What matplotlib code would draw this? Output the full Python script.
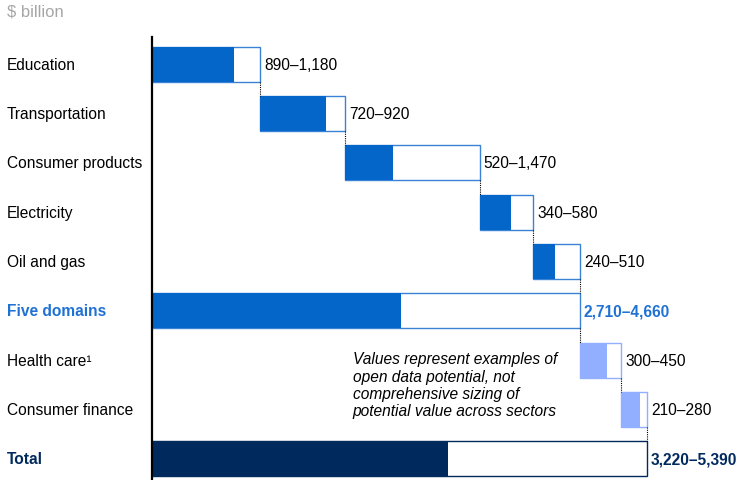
import matplotlib.pyplot as plt
import matplotlib.transforms as mtransforms
import numpy as np

plt.rcParams["font.family"] = ["Liberation Sans", "DejaVu Sans"]

categories = ["Education", "Transportation", "Consumer products", "Electricity",
              "Oil and gas", "Five domains", "Health care¹", "Consumer finance", "Total"]
low = [890, 720, 520, 340, 240, 2710, 300, 210, 3220]
high = [1180, 920, 1470, 580, 510, 4660, 450, 280, 5390]
value_labels = ["890–1,180", "720–920", "520–1,470", "340–580", "240–510",
                "2,710–4,660", "300–450", "210–280", "3,220–5,390"]
is_total = [False, False, False, False, False, True, False, False, True]

blue = "#0566c9"
edge_blue = "#3a82d6"
light_blue = "#92afff"
navy = "#002a5e"
fill_colors = [blue] * 6 + [light_blue] * 2 + [navy]
edge_colors = [edge_blue] * 6 + [light_blue] * 2 + [navy]
label_colors = ["black"] * 5 + ["#1f72d4", "black", "black", navy]

# waterfall start positions: totals start at 0, others at running high end
starts = []
running = 0
for h, tot in zip(high, is_total):
    if tot:
        starts.append(0)
        running = h
    else:
        starts.append(running)
        running += h

fig = plt.figure(figsize=(7.37, 4.81), dpi=100)
W, H = 737, 481
scale = 0.0918  # px per $ billion
ax = fig.add_axes([152 / W, 0, (W - 152) / W, (H - 38) / H])
ax.set_xlim(0, (W - 152) / scale)
ax.set_ylim(8.43, -0.55)
ax.axis("off")
ax.plot([0, 0], [-0.55, 8.43], color="black", lw=1.6, clip_on=False)

y = np.arange(len(categories))
bh = 0.71
fs = 11.2
ax.barh(y, high, left=starts, height=bh, color="white", edgecolor=edge_colors, linewidth=1.0)
ax.barh(y, low, left=starts, height=bh, color=fill_colors, linewidth=0)

# dotted connectors
for i in range(len(categories) - 1):
    xe = starts[i] + high[i]
    ax.plot([xe, xe], [y[i] + bh / 2, y[i + 1] - bh / 2], color="black", lw=0.8, ls=(0, (1, 1)))

trans = mtransforms.blended_transform_factory(fig.transFigure, ax.transData)
for i, cat in enumerate(categories):
    bold = is_total[i]
    ax.text(7 / W, y[i], cat, transform=trans, ha="left", va="center", fontsize=fs,
            color=label_colors[i], fontweight="bold" if bold else "normal")
    ax.text(starts[i] + high[i] + 45, y[i], value_labels[i], ha="left", va="center", fontsize=fs,
            color=label_colors[i], fontweight="bold" if bold else "normal")

ax.text(2185, 6.5, "Values represent examples of\nopen data potential, not\ncomprehensive sizing of\npotential value across sectors",
        ha="left", va="center", fontsize=fs, style="italic", linespacing=1.2)

fig.text(7 / W, 1 - 12 / H, "$ billion", ha="left", va="center", fontsize=12, color="#a6a6a6")

fig.savefig("out.png", dpi=100)
